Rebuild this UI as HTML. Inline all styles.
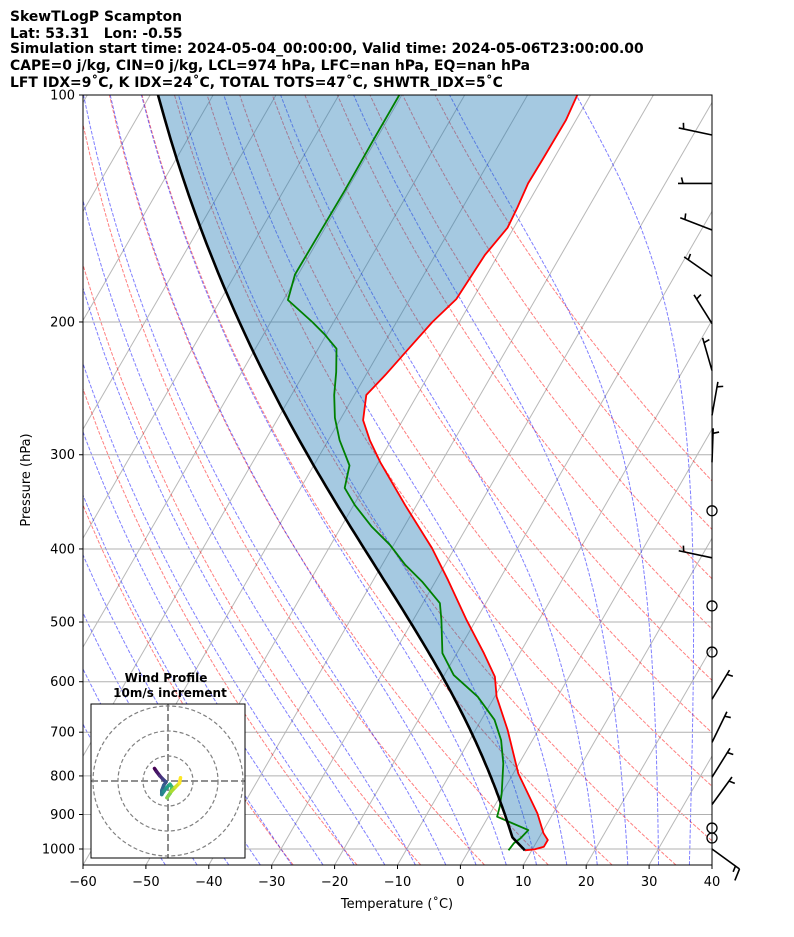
<!DOCTYPE html>
<html><head><meta charset="utf-8"><style>
html,body{margin:0;padding:0;background:#fff;}
svg{display:block;font-family:"DejaVu Sans","Liberation Sans",sans-serif;}
</style></head><body>
<svg id="chart" width="794" height="937" viewBox="0 0 794 937">
<g font-weight="bold" font-size="13.9" fill="#000" xml:space="preserve">
<text x="10" y="21">SkewTLogP Scampton</text>
<text x="10" y="38">Lat: 53.31&#160;&#160;&#160;Lon: -0.55</text>
<text x="10" y="53">Simulation start time: 2024-05-04_00:00:00, Valid time: 2024-05-06T23:00:00.00</text>
<text x="10" y="70">CAPE=0 j/kg, CIN=0 j/kg, LCL=974 hPa, LFC=nan hPa, EQ=nan hPa</text>
<text x="10" y="87">LFT IDX=9˚C, K IDX=24˚C, TOTAL TOTS=47˚C, SHWTR_IDX=5˚C</text>
</g>
<defs><clipPath id="plotclip"><rect x="83" y="95" width="629" height="770"/></clipPath>
<clipPath id="hodoclip"><rect x="91" y="704" width="154" height="154"/></clipPath></defs>
<g id="bg" clip-path="url(#plotclip)"></g>
<g id="series" clip-path="url(#plotclip)"></g>
<g id="barbs"></g>
<g id="axes"></g>
<g id="hodo"></g>
</svg>
<script>
// ---- data ----
const tempP = [1004,1001,993,973,953,897,794,695,628,591,550,497,440,399,350,307,287,270,250,235,218,200,186.5,163,150,141,131,122,108,100];
const tempT = [8.9,10.4,11.6,11.6,10.3,7.5,0.8,-4.9,-9.7,-11.8,-15.7,-21.5,-28.1,-33.6,-41.8,-49.7,-53.4,-56.3,-58.1,-56.9,-55.7,-54.3,-52.6,-52.1,-51,-51.3,-51.8,-51.7,-51.6,-52.1];
const dewP = [1004,982,968,944,906,879,844,770,717,674,628,588,550,497,472,442,420,395,374,350,332,310,287,268,250,233,217,208,200,187,173,152,134,115,100];
const dewT = [6.3,6.5,7.1,7.6,1.4,0.9,0,-2.5,-5,-7.9,-12.7,-18.5,-22.3,-25.5,-27.3,-32.1,-36.3,-40.6,-45.1,-49.8,-53,-54.3,-58.2,-61,-63.2,-65,-67.1,-70.2,-73.4,-79.3,-80.5,-80.4,-80.3,-80.4,-80.4];
const barbP = [113,131,151,174,201,232,266,307,356,411,476,548,633,722,803,873,938,967,1000];
const barbSpd = [5,5,5,5,5,5,5,5,0,5,0,0,5,5,5,5,0,0,15];
const barbDir = [282,270,291,305,328,344,10,2,0,282,0,0,31,26,32,36,0,0,126];
const hodoU = [-5.4,-4.6,-3.3,-2.1,-0.8,-1.7,-2.5,-2.5,-1.7,-0.4,0.8,1.7,0.8,-0.4,1.3,2.9,4.6,5];
const hodoV = [5,3.8,2.1,0.8,-0.4,-1.7,-3.8,-5.4,-4.2,-2.5,-1.3,-2.5,-5,-6.7,-4.2,-2.5,-0.8,1.3];
const xTicks = [-60,-50,-40,-30,-20,-10,0,10,20,30,40];
const yTicks = [100,200,300,400,500,600,700,800,900,1000];

// ---- axes functions ----
const X0=83,X1=712,Y0=95,Y1=865,PPX=6.29,SK=0.5774,DEC=754;
function yOf(p){return Y0+DEC*Math.log10(p/100);}
function xOf(T,p){return X0+(T+60)*PPX+(Y1-yOf(p))*SK;}
const NS="http://www.w3.org/2000/svg";
function mk(tag,attrs,parent){const e=document.createElementNS(NS,tag);for(const k in attrs)e.setAttribute(k,attrs[k]);parent.appendChild(e);return e;}
function pathOf(pts){return pts.map((q,i)=>(i?'L':'M')+q[0].toFixed(1)+','+q[1].toFixed(1)).join('');}
const bg=document.getElementById('bg'),series=document.getElementById('series'),barbsG=document.getElementById('barbs'),axesG=document.getElementById('axes'),hodoG=document.getElementById('hodo');

// physics
const Rd=287.04,cp=1005.7,Lv=2.501e6,eps=0.622;
function es(Tc){return 6.112*Math.exp(17.67*Tc/(Tc+243.5));}
function dTdp(p,T){const e=es(T-273.15);const rs=eps*e/(p-e);return (Rd*T+Lv*rs)/(p*(cp+Lv*Lv*rs*eps/(Rd*T*T)));}
function moist(T0K,p0,p1,n){const pts=[];let T=T0K,p=p0;const h=(p1-p0)/n;pts.push([p,T]);
 for(let i=0;i<n;i++){const k1=dTdp(p,T),k2=dTdp(p+h/2,T+h/2*k1),k3=dTdp(p+h/2,T+h/2*k2),k4=dTdp(p+h,T+h*k3);T+=h/6*(k1+2*k2+2*k3+k4);p+=h;pts.push([p,T]);}return pts;}

// isotherms
for(let T=-200;T<=40;T+=10){const l=mk('line',{x1:xOf(T,1050),y1:Y1,x2:xOf(T,100),y2:Y0,stroke:'#b8b8b8','stroke-width':1},bg);
}
// dry adiabats
for(let th=-30;th<=110;th+=10){const pts=[];for(let p=1050;p>=100;p-=10){pts.push([xOf((th+273.15)*Math.pow(p/1000,0.2857)-273.15,p),yOf(p)]);}
const e=mk('path',{d:pathOf(pts),fill:'none',stroke:'#ff0000','stroke-opacity':0.5,'stroke-width':1,'stroke-dasharray':'3.7,1.6'},bg);
}
// moist adiabats
for(let t0=-50;t0<=45;t0+=5){const up=moist(t0+273.15,1000,100,90),dn=moist(t0+273.15,1000,1050,5);
const pts=dn.reverse().concat(up.slice(1)).map(q=>[xOf(q[1]-273.15,q[0]),yOf(q[0])]);
const e=mk('path',{d:pathOf(pts),fill:'none',stroke:'#0000ff','stroke-opacity':0.5,'stroke-width':1,'stroke-dasharray':'3.7,1.6'},bg);
}
// horizontal grid
yTicks.forEach(p=>{const l=mk('line',{x1:X0,x2:X1,y1:yOf(p),y2:yOf(p),stroke:'#b0b0b0','stroke-width':1},bg);
});

// parcel profile
const ps=tempP[0],Ts=tempT[0]+273.15,Tds=dewT[0]+273.15;
const Tlcl=1/(1/(Tds-56)+Math.log(Ts/Tds)/800)+56;const plcl=ps*Math.pow(Tlcl/Ts,1/0.2857);
const parcel=[];for(let p=ps;p>plcl;p-=2)parcel.push([p,Ts*Math.pow(p/ps,0.2857)]);
moist(Tlcl,plcl,100,120).forEach(q=>parcel.push(q));
const parcelPx=parcel.map(q=>[xOf(q[1]-273.15,q[0]),yOf(q[0])]);
const tempPx=tempP.map((p,i)=>[xOf(tempT[i],p),yOf(p)]);
const dewPx=dewP.map((p,i)=>[xOf(dewT[i],p),yOf(p)]);
let fillPath=mk('path',{d:pathOf(tempPx.concat(parcelPx.slice().reverse()))+'Z',fill:'#1f77b4','fill-opacity':0.4,stroke:'none'},series);

let tl=mk('path',{d:pathOf(tempPx),fill:'none',stroke:'#ff0000','stroke-width':1.8,'stroke-linejoin':'round'},series);

let dl=mk('path',{d:pathOf(dewPx),fill:'none',stroke:'#008000','stroke-width':1.8,'stroke-linejoin':'round'},series);

let pl=mk('path',{d:pathOf(parcelPx),fill:'none',stroke:'#000','stroke-width':2.6},series);


// wind barbs
barbP.forEach((p,i)=>{const bx=X1,by=yOf(p),s=barbSpd[i];
 if(s<2.5){const c=mk('circle',{cx:bx,cy:by,r:5,fill:'none',stroke:'#000','stroke-width':1.3},barbsG);
  return;}
 const a=barbDir[i]*Math.PI/180;const dx=Math.sin(a),dy=-Math.cos(a);const L=34;
 const g=mk('g',{stroke:'#000','stroke-width':1.6,fill:'none'},barbsG);
 
 mk('line',{x1:bx,y1:by,x2:bx+dx*L,y2:by+dy*L},g);
 const px=-dy,py=dx;let rem=s,pos=L;const full=Math.floor(rem/10);rem-=full*10;
 for(let k=0;k<full;k++){const sx=bx+dx*pos,sy=by+dy*pos;mk('line',{x1:sx,y1:sy,x2:sx+px*12+dx*3,y2:sy+py*12+dy*3},g);pos-=5;}
 if(rem>=5){if(full===0)pos-=5;const sx=bx+dx*pos,sy=by+dy*pos;mk('line',{x1:sx,y1:sy,x2:sx+px*6+dx*1.5,y2:sy+py*6+dy*1.5},g);}
});

// axes spines and ticks
let fr=mk('rect',{x:X0,y:Y0,width:X1-X0,height:Y1-Y0,fill:'none',stroke:'#000','stroke-width':1},axesG);

xTicks.forEach(t=>{const x=X0+(t+60)*PPX;mk('line',{x1:x,x2:x,y1:Y1,y2:Y1+4,stroke:'#000'},axesG);
 const tx=mk('text',{x:x,y:886,'text-anchor':'middle','font-size':13},axesG);tx.textContent=(t<0?'\u2212'+(-t):t);
 });
yTicks.forEach(p=>{const y=yOf(p);mk('line',{x1:X0-4,x2:X0,y1:y,y2:y,stroke:'#000'},axesG);
 const tx=mk('text',{x:75,y:y+4.5,'text-anchor':'end','font-size':13},axesG);tx.textContent=p;
 });
let xt=mk('text',{x:397,y:908,'text-anchor':'middle','font-size':13},axesG);xt.textContent='Temperature (\u02daC)';

let yt=mk('text',{x:30,y:480,'text-anchor':'middle','font-size':13,transform:'rotate(-90 30 480)'},axesG);yt.textContent='Pressure (hPa)';


// hodograph
const HX=168,HY=781,HS=2.5;
const hb=mk('rect',{x:91,y:704,width:154,height:154,fill:'#fff',stroke:'none'},hodoG);
const hc=mk('g',{'clip-path':'url(#hodoclip)'},hodoG);
[10,20,30].forEach(r=>{const c=mk('circle',{cx:HX,cy:HY,r:r*HS,fill:'none',stroke:'#808080','stroke-width':1.2,'stroke-dasharray':'4,2.5'},hc);
 });
mk('line',{x1:91,x2:245,y1:HY,y2:HY,stroke:'#808080','stroke-width':1.8,'stroke-dasharray':'7,3'},hc);
mk('line',{x1:HX,x2:HX,y1:704,y2:858,stroke:'#808080','stroke-width':1.8,'stroke-dasharray':'7,3'},hc);
const vir=[[68,1,84],[72,40,120],[62,74,137],[49,104,142],[38,130,142],[31,158,137],[53,183,121],[109,205,89],[180,222,44],[253,231,37]];
function vcol(f){const i=Math.min(8,Math.floor(f*9)),t=f*9-i;const a=vir[i],b=vir[i+1];return 'rgb('+a.map((v,k)=>Math.round(v+(b[k]-v)*t)).join(',')+')';}
for(let i=0;i<hodoU.length-1;i++){const s=mk('line',{x1:HX+hodoU[i]*HS,y1:HY-hodoV[i]*HS,x2:HX+hodoU[i+1]*HS,y2:HY-hodoV[i+1]*HS,stroke:vcol(i/(hodoU.length-2)),'stroke-width':3.5,'stroke-linecap':'round'},hc);
 }
const hf=mk('rect',{x:91,y:704,width:154,height:154,fill:'none',stroke:'#000','stroke-width':1},hodoG);

let h1=mk('text',{x:166,y:682,'text-anchor':'middle','font-size':12,'font-weight':'bold'},hodoG);h1.textContent='Wind Profile';

let h2=mk('text',{x:170,y:697,'text-anchor':'middle','font-size':12,'font-weight':'bold'},hodoG);h2.textContent='10m/s increment';

</script>
</body></html>
